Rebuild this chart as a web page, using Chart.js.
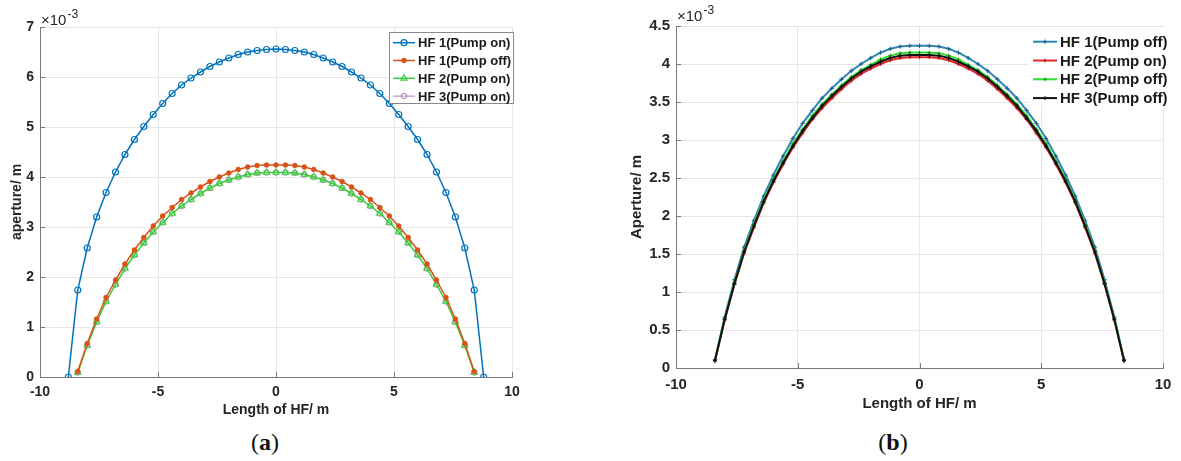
<!DOCTYPE html>
<html>
<head>
<meta charset="utf-8">
<script src="https://cdn.jsdelivr.net/npm/chart.js@4.4.1/dist/chart.umd.min.js"></script>
<style>
  body { margin: 0; background: #fff; width: 1181px; height: 461px; overflow: hidden; position: relative; }
  #wa { position: absolute; left: 0; top: 0; width: 560px; height: 425px; }
  #wb { position: absolute; left: 600px; top: 0; width: 581px; height: 425px; }
  .cap { position: absolute; top: 429px; font: 24px "Liberation Serif", "DejaVu Serif", serif; color: #111; transform: translateX(-50%); }
</style>
</head>
<body>
<div id="wa"><canvas id="chartA"></canvas></div>
<div id="wb"><canvas id="chartB"></canvas></div>
<div class="cap" style="left:265px">(<b>a</b>)</div>
<div class="cap" style="left:893px">(<b>b</b>)</div>
<script>
// aperture values are in units of 1e-3 m (axis shows x10^-3)
const xTicks = [-10, -5, 0, 5, 10];
const yTicksA = [0, 1, 2, 3, 4, 5, 6, 7];
const yTicksB = [0, 0.5, 1, 1.5, 2, 2.5, 3, 3.5, 4, 4.5];

// positions along the fracture, m
const xLong = [-8.8, -8.4, -8.0, -7.6, -7.2, -6.8, -6.4, -6.0, -5.6, -5.2, -4.8, -4.4, -4.0, -3.6, -3.2, -2.8, -2.4, -2.0, -1.6, -1.2, -0.8, -0.4, 0,
               0.4, 0.8, 1.2, 1.6, 2.0, 2.4, 2.8, 3.2, 3.6, 4.0, 4.4, 4.8, 5.2, 5.6, 6.0, 6.4, 6.8, 7.2, 7.6, 8.0, 8.4, 8.8];
const xShort = [-8.4, -8.0, -7.6, -7.2, -6.8, -6.4, -6.0, -5.6, -5.2, -4.8, -4.4, -4.0, -3.6, -3.2, -2.8, -2.4, -2.0, -1.6, -1.2, -0.8, -0.4, 0,
                0.4, 0.8, 1.2, 1.6, 2.0, 2.4, 2.8, 3.2, 3.6, 4.0, 4.4, 4.8, 5.2, 5.6, 6.0, 6.4, 6.8, 7.2, 7.6, 8.0, 8.4];

// (a)
const hf1PumpOnA = [0, 1.74, 2.58, 3.20, 3.69, 4.10, 4.45, 4.75, 5.01, 5.25, 5.47, 5.67, 5.84, 5.98, 6.10, 6.21, 6.30, 6.38, 6.45, 6.50, 6.53, 6.55, 6.56,
                    6.55, 6.53, 6.50, 6.45, 6.38, 6.30, 6.21, 6.10, 5.98, 5.84, 5.67, 5.47, 5.25, 5.01, 4.75, 4.45, 4.10, 3.69, 3.20, 2.58, 1.74, 0];
const hf1PumpOffA = [0.11, 0.67, 1.16, 1.59, 1.94, 2.26, 2.54, 2.79, 3.02, 3.22, 3.39, 3.55, 3.68, 3.80, 3.91, 4.00, 4.08, 4.15, 4.20, 4.23, 4.24, 4.24,
                     4.24, 4.23, 4.20, 4.15, 4.08, 4.00, 3.91, 3.80, 3.68, 3.55, 3.39, 3.22, 3.02, 2.79, 2.54, 2.26, 1.94, 1.59, 1.16, 0.67, 0.11];
const hf2PumpOnA = [0.09, 0.63, 1.10, 1.51, 1.85, 2.17, 2.44, 2.68, 2.90, 3.09, 3.27, 3.42, 3.55, 3.67, 3.78, 3.87, 3.94, 4.00, 4.05, 4.08, 4.09, 4.09,
                    4.09, 4.08, 4.05, 4.00, 3.94, 3.87, 3.78, 3.67, 3.55, 3.42, 3.27, 3.09, 2.90, 2.68, 2.44, 2.17, 1.85, 1.51, 1.10, 0.63, 0.09];
const hf3PumpOnA = [0.09, 0.63, 1.10, 1.51, 1.85, 2.17, 2.44, 2.68, 2.90, 3.09, 3.27, 3.42, 3.55, 3.67, 3.78, 3.87, 3.94, 4.00, 4.05, 4.08, 4.09, 4.09,
                    4.09, 4.08, 4.05, 4.00, 3.94, 3.87, 3.78, 3.67, 3.55, 3.42, 3.27, 3.09, 2.90, 2.68, 2.44, 2.17, 1.85, 1.51, 1.10, 0.63, 0.09];

// (b)
const hf1PumpOffB = [0.11, 0.67, 1.16, 1.59, 1.94, 2.26, 2.54, 2.79, 3.02, 3.22, 3.39, 3.55, 3.68, 3.80, 3.91, 4.00, 4.08, 4.15, 4.20, 4.23, 4.24, 4.24,
                     4.24, 4.23, 4.20, 4.15, 4.08, 4.00, 3.91, 3.80, 3.68, 3.55, 3.39, 3.22, 3.02, 2.79, 2.54, 2.26, 1.94, 1.59, 1.16, 0.67, 0.11];
const hf2PumpOnB = [0.09, 0.63, 1.10, 1.51, 1.85, 2.17, 2.44, 2.68, 2.90, 3.09, 3.27, 3.42, 3.55, 3.67, 3.78, 3.87, 3.94, 4.00, 4.05, 4.08, 4.09, 4.09,
                    4.09, 4.08, 4.05, 4.00, 3.94, 3.87, 3.78, 3.67, 3.55, 3.42, 3.27, 3.09, 2.90, 2.68, 2.44, 2.17, 1.85, 1.51, 1.10, 0.63, 0.09];
const hf2PumpOffB = [0.10, 0.65, 1.12, 1.54, 1.89, 2.21, 2.48, 2.72, 2.95, 3.14, 3.32, 3.47, 3.60, 3.72, 3.83, 3.92, 3.99, 4.06, 4.11, 4.14, 4.15, 4.15,
                     4.15, 4.14, 4.11, 4.06, 3.99, 3.92, 3.83, 3.72, 3.60, 3.47, 3.32, 3.14, 2.95, 2.72, 2.48, 2.21, 1.89, 1.54, 1.12, 0.65, 0.10];
const hf3PumpOffB = [0.10, 0.64, 1.11, 1.53, 1.87, 2.19, 2.46, 2.70, 2.92, 3.12, 3.29, 3.45, 3.58, 3.70, 3.81, 3.90, 3.97, 4.03, 4.08, 4.11, 4.12, 4.12,
                     4.12, 4.11, 4.08, 4.03, 3.97, 3.90, 3.81, 3.70, 3.58, 3.45, 3.29, 3.12, 2.92, 2.70, 2.46, 2.19, 1.87, 1.53, 1.11, 0.64, 0.10];

const FONT = '"Liberation Sans", Arial, sans-serif';
const TXT = '#262626';

function pts(xs, ys) {
  return xs.map((x, i) => ({ x: x, y: ys[i] }));
}

// axis ticks pointing inward, x10^-3 label, boxed legend
const decor = {
  id: 'decor',
  afterDraw(chart, args, o) {
    const ctx = chart.ctx;
    const a = chart.chartArea;
    const xs = chart.scales.x, ys = chart.scales.y;
    ctx.save();
    ctx.strokeStyle = '#7a7a7a';
    ctx.lineWidth = 1;
    ctx.beginPath();
    xs.ticks.forEach(t => {
      const px = Math.round(xs.getPixelForValue(t.value)) + 0.5;
      ctx.moveTo(px, a.bottom);
      ctx.lineTo(px, a.bottom - 5);
    });
    ys.ticks.forEach(t => {
      const py = Math.round(ys.getPixelForValue(t.value)) + 0.5;
      ctx.moveTo(a.left, py);
      ctx.lineTo(a.left + 5, py);
    });
    ctx.stroke();

    // exponent
    ctx.fillStyle = TXT;
    ctx.textBaseline = 'middle';
    ctx.textAlign = 'left';
    ctx.font = o.expSize + 'px ' + FONT;
    const e = o.exp;
    ctx.fillText('\u00d710', e[0], e[1]);
    const w = ctx.measureText('\u00d710').width;
    ctx.font = Math.round(o.expSize * 0.78) + 'px ' + FONT;
    ctx.fillText('-3', e[0] + w + 1, e[1] - 6);

    // legend
    const L = o.legend;
    ctx.fillStyle = '#fff';
    ctx.fillRect(L.box[0], L.box[1], L.box[2], L.box[3]);
    if (L.border) {
      ctx.strokeStyle = L.border;
      ctx.strokeRect(L.box[0] + 0.5, L.box[1] + 0.5, L.box[2], L.box[3]);
    }
    ctx.font = 'bold ' + L.size + 'px ' + FONT;
    chart.data.datasets.forEach((ds, i) => {
      const y = L.row0 + L.rowH * i;
      ctx.strokeStyle = ds.borderColor;
      ctx.lineWidth = ds.borderWidth;
      ctx.beginPath();
      ctx.moveTo(L.x0, y);
      ctx.lineTo(L.x1, y);
      ctx.stroke();
      ctx.fillStyle = ds.pointBackgroundColor;
      ctx.strokeStyle = ds.pointBorderColor;
      ctx.lineWidth = ds.pointBorderWidth;
      Chart.helpers.drawPoint(ctx, {
        pointStyle: ds.pointStyle, radius: ds.pointRadius, rotation: 0, borderWidth: ds.pointBorderWidth
      }, (L.x0 + L.x1) / 2, y);
      ctx.fillStyle = '#1a1a1a';
      ctx.fillText(ds.label, L.tx, y + 1);
    });
    ctx.restore();
  }
};

function makeScales(yMax, yTicks, yTitle, sz, yWidth, xHeight, titleBottom, tickPad) {
  return {
    x: {
      type: 'linear', min: -10, max: 10,
      afterBuildTicks: s => { s.ticks = xTicks.map(v => ({ value: v })); },
      afterFit: s => { s.height = xHeight; },
      grid: { color: '#e6e6e6', drawTicks: false },
      border: { color: '#7a7a7a' },
      ticks: { padding: tickPad, color: TXT, font: { family: FONT, size: sz, weight: 'bold' },
               callback: v => String(v) },
      title: { display: true, text: 'Length of HF/ m', color: TXT,
               font: { family: FONT, size: sz, weight: 'bold' }, padding: { top: 0, bottom: titleBottom } }
    },
    y: {
      min: 0, max: yMax,
      afterBuildTicks: s => { s.ticks = yTicks.map(v => ({ value: v })); },
      afterFit: s => { s.width = yWidth; },
      grid: { color: '#e6e6e6', drawTicks: false },
      border: { color: '#7a7a7a' },
      ticks: { padding: 6, color: TXT, font: { family: FONT, size: sz, weight: 'bold' },
               callback: v => String(v) },
      title: { display: true, text: yTitle, color: TXT,
               font: { family: FONT, size: sz, weight: 'bold' }, padding: { top: 4, bottom: 0 } }
    }
  };
}

new Chart(document.getElementById('chartA'), {
  type: 'line',
  data: {
    datasets: [
      { label: 'HF 1(Pump on)', data: pts(xLong, hf1PumpOnA), borderColor: '#0072BD', borderWidth: 1.5,
        pointStyle: 'circle', pointRadius: 3, pointBorderWidth: 1.2, pointBorderColor: '#0072BD', pointBackgroundColor: 'rgba(255,255,255,0)' },
      { label: 'HF 1(Pump off)', data: pts(xShort, hf1PumpOffA), borderColor: '#D95319', borderWidth: 1.5,
        pointStyle: 'circle', pointRadius: 2.3, pointBorderWidth: 1, pointBorderColor: '#D95319', pointBackgroundColor: '#D95319' },
      { label: 'HF 2(Pump on)', data: pts(xShort, hf2PumpOnA), borderColor: '#3ccf3c', borderWidth: 1.5,
        pointStyle: 'triangle', pointRadius: 3.5, pointBorderWidth: 1.2, pointBorderColor: '#3ccf3c', pointBackgroundColor: 'rgba(255,255,255,0)' },
      { label: 'HF 3(Pump on)', data: pts(xShort, hf3PumpOnA), borderColor: '#a883b8', borderWidth: 1,
        pointStyle: 'circle', pointRadius: 2.8, pointBorderWidth: 1, pointBorderColor: '#a883b8', pointBackgroundColor: 'rgba(255,255,255,0)' }
    ]
  },
  options: {
    responsive: true,
    maintainAspectRatio: false,
    animation: false,
    events: [],
    layout: { padding: { left: 5, top: 27, right: 48, bottom: 2 } },
    scales: makeScales(7, yTicksA, 'aperture/ m', 14, 35, 46, 4, 7),
    plugins: {
      legend: { display: false },
      tooltip: { enabled: false },
      decor: {
        exp: [41, 21], expSize: 15,
        legend: { box: [389, 32, 124, 71], border: '#8a8a8a', row0: 42.7, rowH: 17.8, x0: 393, x1: 415, tx: 418, size: 13 }
      }
    }
  },
  plugins: [decor]
});

new Chart(document.getElementById('chartB'), {
  type: 'line',
  data: {
    datasets: [
      { label: 'HF 1(Pump off)', data: pts(xShort, hf1PumpOffB), borderColor: '#2f86b5', borderWidth: 2, order: 3,
        pointStyle: 'cross', pointRadius: 2.2, pointBorderWidth: 1, pointBorderColor: '#1f5f85', pointBackgroundColor: '#2f86b5' },
      { label: 'HF 2(Pump on)', data: pts(xShort, hf2PumpOnB), borderColor: '#e2262b', borderWidth: 2, order: 2,
        pointStyle: 'cross', pointRadius: 2, pointBorderWidth: 1, pointBorderColor: '#b01c20', pointBackgroundColor: '#e2262b' },
      { label: 'HF 2(Pump off)', data: pts(xShort, hf2PumpOffB), borderColor: '#2ee02e', borderWidth: 2, order: 1,
        pointStyle: 'cross', pointRadius: 2, pointBorderWidth: 1, pointBorderColor: '#1f9a1f', pointBackgroundColor: '#2ee02e' },
      { label: 'HF 3(Pump off)', data: pts(xShort, hf3PumpOffB), borderColor: '#111111', borderWidth: 2, order: 0,
        pointStyle: 'cross', pointRadius: 2, pointBorderWidth: 1, pointBorderColor: '#111111', pointBackgroundColor: '#111111' }
    ]
  },
  options: {
    responsive: true,
    maintainAspectRatio: false,
    animation: false,
    events: [],
    layout: { padding: { left: 24, top: 26, right: 18, bottom: 5 } },
    scales: makeScales(4.5, yTicksB, 'Aperture/ m', 15, 52, 52, 7, 8),
    plugins: {
      legend: { display: false },
      tooltip: { enabled: false },
      decor: {
        exp: [77, 17], expSize: 15,
        legend: { box: [428, 27, 137, 78], border: null, row0: 41.7, rowH: 18.8, x0: 433, x1: 457, tx: 460, size: 15 }
      }
    }
  },
  plugins: [decor]
});
</script>
</body>
</html>
